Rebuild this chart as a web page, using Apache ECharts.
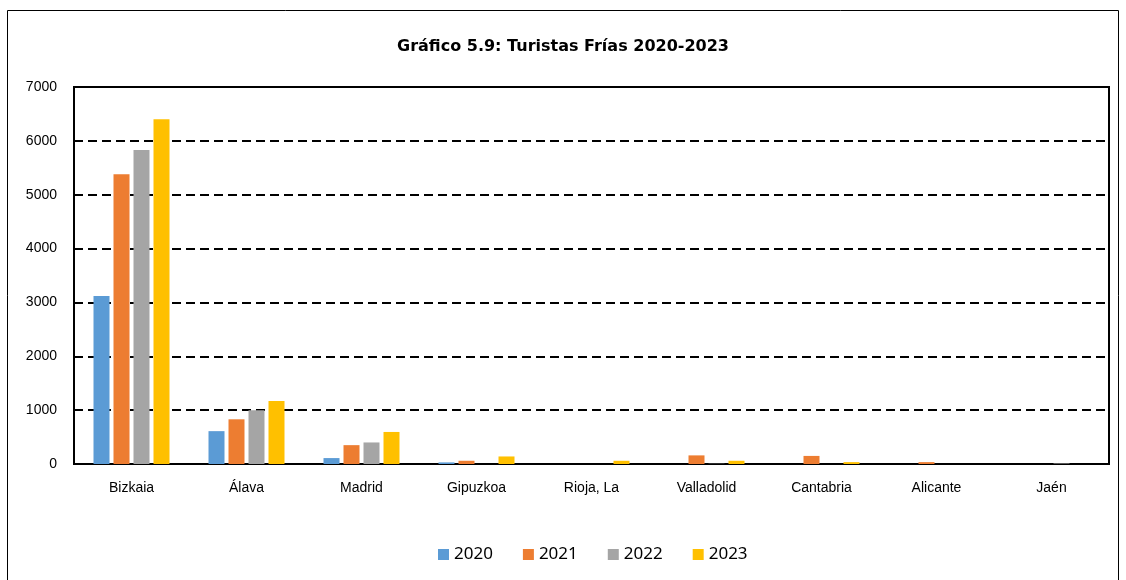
<!DOCTYPE html>
<html>
<head>
<meta charset="utf-8">
<script src="https://cdn.jsdelivr.net/npm/echarts@6/dist/echarts.min.js"></script>
<style>
  html, body { margin: 0; padding: 0; background: #fff; }
  #chart { width: 1126px; height: 580px; }
</style>
</head>
<body>
<div id="chart"></div>
<script>
const categories = ['Bizkaia', 'Álava', 'Madrid', 'Gipuzkoa', 'Rioja, La', 'Valladolid', 'Cantabria', 'Alicante', 'Jaén'];
const years = ['2020', '2021', '2022', '2023'];
const v2020 = [3120, 610, 110, 30, 0, 0, 0, 0, 0];
const v2021 = [5380, 830, 350, 60, 0, 160, 150, 35, 0];
const v2022 = [5830, 1000, 400, 0, 0, 5, 0, 0, 10];
const v2023 = [6400, 1170, 595, 140, 60, 60, 35, 0, 0];
const colors = ['#5b9bd5', '#ed7d31', '#a5a5a5', '#ffc000'];

const chart = echarts.init(document.getElementById('chart'));

const seriesData = [v2020, v2021, v2022, v2023];

const option = {
  animation: false,
  title: {
    text: 'Gráfico 5.9: Turistas Frías 2020-2023',
    left: 'center',
    top: 34,
    textStyle: { fontFamily: 'DejaVu Sans', fontSize: 16, fontWeight: 'bold', color: '#000' }
  },
  graphic: [{
    type: 'rect',
    shape: { x: 7.5, y: 10.5, width: 1111, height: 600 },
    style: { fill: 'none', stroke: '#000', lineWidth: 1 },
    silent: true
  }],
  legend: {
    data: years,
    top: 541,
    left: 433,
    itemWidth: 11,
    itemHeight: 11,
    itemGap: 30,
    icon: 'rect',
    textStyle: { fontFamily: 'Noto Sans', fontSize: 17, color: '#000' }
  },
  grid: {
    left: 74,
    right: 17,
    top: 87,
    bottom: 116,
    show: true,
    borderColor: '#000',
    borderWidth: 2
  },
  xAxis: {
    type: 'category',
    data: categories,
    axisLine: { lineStyle: { color: '#000', width: 2 } },
    axisTick: { show: false },
    axisLabel: { fontFamily: 'Liberation Sans', fontSize: 14, color: '#000', margin: 17 }
  },
  yAxis: {
    type: 'value',
    min: 0,
    max: 7000,
    interval: 1000,
    axisLine: { show: true, lineStyle: { color: '#000', width: 2 } },
    axisTick: { show: false },
    axisLabel: { fontFamily: 'Liberation Sans', fontSize: 14, color: '#000', margin: 17, formatter: v => String(v) },
    splitLine: { lineStyle: { color: '#000', type: [9, 5], width: 2 } }
  },
  series: years.map((y, i) => ({
    name: y,
    type: 'bar',
    data: seriesData[i],
    barWidth: 16,
    barGap: '25%',
    itemStyle: { color: colors[i] }
  }))
};

chart.setOption(option);
</script>
</body>
</html>
